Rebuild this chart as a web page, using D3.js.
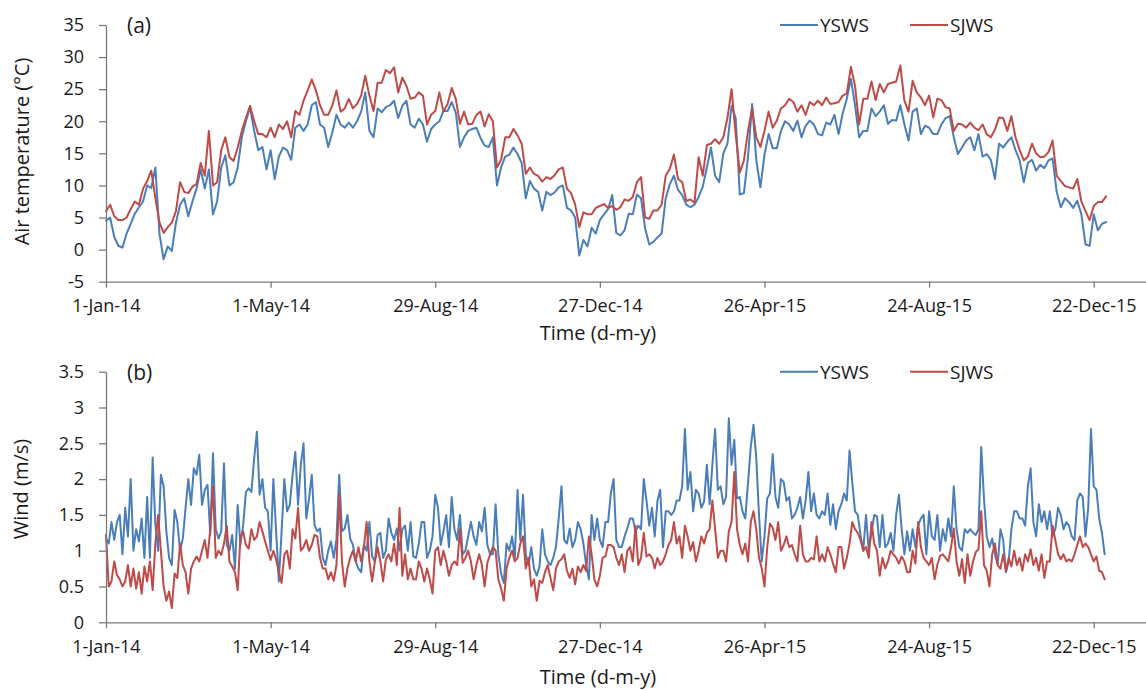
<!DOCTYPE html>
<html>
<head>
<meta charset="utf-8">
<script src="https://cdn.jsdelivr.net/npm/d3@7"></script>
<style>
  html, body { margin: 0; padding: 0; background: #ffffff; }
  svg { display: block; font-family: "Open Sans", "Liberation Sans", sans-serif; }
</style>
</head>
<body>
<svg id="chart" width="1146" height="690"></svg>
<script>
// ---- Data -------------------------------------------------------------
const xTickLabels = ["1-Jan-14", "1-May-14", "29-Aug-14", "27-Dec-14", "26-Apr-15", "24-Aug-15", "22-Dec-15"];
const tempTicks = [-5, 0, 5, 10, 15, 20, 25, 30, 35];
const windTicks = [0, 0.5, 1, 1.5, 2, 2.5, 3, 3.5];
const seriesNames = ["YSWS", "SJWS"];

// daily records thinned to one value every few days, starting 1-Jan-14
const tempStepDays = 3;
const windStepDays = 2;

// Air temperature (°C)
const tempYSWS = [
  4.5, 5, 2.0, 0.6, 0.3, 2.5, 4, 5.6, 6.6, 7.5, 10, 9.6, 12.8, 2.4, -1.5, 0.5, -0.2, 4.2, 7, 8,
  5.2, 7.5, 9.5, 12.5, 9.5, 12.5, 5.5, 7.5, 12.8, 14.7, 10, 10.5, 12.8, 17.5, 20, 22.2, 18.5, 15.5, 16, 12.5,
  15.5, 11, 14.5, 15.9, 15.5, 14, 19, 19.5, 18.5, 19.5, 22.5, 23, 19.5, 19, 16, 18.3, 21, 19.5, 19, 19.8,
  19, 20,
  21.5, 24.5, 18.5, 17.5, 22, 21.4, 22.2, 22.5, 23.2, 20.5, 22.4, 23.2, 19.5, 19, 20.4, 19.5, 16.8, 18.8, 19.5, 20,
  21.6, 21.6, 23, 21.3, 16, 17.5, 18.5, 18.8, 19, 17.4, 16.2, 16, 17.5, 10, 12.8, 14.5, 14.8, 15.9, 14.9, 13.5,
  8, 10.7, 9.5, 9, 6.1, 9, 8.5, 8.9, 9.7, 10, 6.5, 6.1, 5, -0.9, 1.5, 0.5, 3.4, 2.5, 4.6, 5.5, 6.3,
  8.5, 2.6, 2.2, 3, 5.6, 5.5, 8.6, 8, 3.3, 0.8, 1.2, 1.9, 2.5, 8, 10.2, 11.5, 9.3, 8.5, 7, 6.6,
  7, 8.2, 9.8, 12.8, 15.9, 11.5, 10.5, 15, 16.5, 22.4, 20.5, 8.6, 8.8, 14.5, 22.7, 14, 9.7, 14.8, 18, 15.8,
  15.8, 18.5, 20, 19.5, 18.5, 20.1, 17.5, 19.3, 20.1, 19.5, 18, 17.8, 19.8, 19.5, 21, 18, 21.2, 23.5, 26.6, 22.5, 17.5,
  18.5, 18.5, 22, 20.8, 21.5, 22.5, 19.6, 20.2, 20.1, 22.5, 19.5, 17, 21.5, 22, 18, 19.3, 19, 18, 18, 19.5,
  20.5, 20.8, 17.5, 14.9, 15.9, 17, 17.5, 15.5, 18, 14.5, 14.9, 14, 11, 16.5, 15.9, 16.8, 17.5, 15.5, 13.9, 10.5,
  13.5, 14, 12.3, 13.2, 12.7, 13.9, 14.2, 9, 6.6, 8, 7.4, 6.5, 7.6, 5.5, 0.8, 0.6, 5.5, 3, 4, 4.3
];
const tempSJWS = [
  6, 7, 5.2, 4.6, 4.6, 5, 6.3, 7.5, 7, 9.5, 10.7, 12.3, 8, 4.2, 2.6, 3.5, 4.2, 6, 10.5, 9,
  8.8, 9.8, 10.2, 13.5, 11.5, 18.5, 10, 10.5, 15.5, 17.5, 14.4, 13.8, 15.9, 18.5, 20.5, 22.4, 20, 18, 18, 17.5,
  19, 17.5, 19.5, 18.8, 20, 17.5, 21.6, 21, 23.2, 24.8, 26.5, 24.8, 22.5, 21, 21, 22.5, 24.8, 21.5, 22, 23.5,
  22, 22.7,
  24, 27.1, 24, 21.6, 26, 26, 28, 27.5, 28.4, 24.5, 26.8, 25.5, 23.5, 23.7, 24.5, 24, 19.5, 21, 21.6, 24.5,
  21.5, 22.7, 25.2, 23.5, 19.6, 21.5, 19.5, 19.6, 21, 21.5, 19.2, 21.1, 20, 12.8, 14, 17.5, 17.5, 18.8, 17.8, 16.5,
  11.8, 12.8, 11.8, 11.5, 10.6, 11.3, 11, 11.6, 12.5, 12.8, 9.5, 8.8, 7, 3.5, 5.8, 5.5, 5.5, 6.5, 6.8, 7.1, 6.5,
  6.8, 6.2, 6.6, 7.8, 7.6, 8.2, 10.5, 11.3, 5, 4.8, 6.1, 6.1, 7, 11.5, 12.6, 14.8, 11, 10.5, 7.6, 7.8,
  7.3, 14.4, 11.5, 16.3, 16.5, 17.2, 16.5, 17.5, 20.5, 25, 18, 12, 13.9, 18.5, 22, 17.5, 16, 18.5, 21.5, 19,
  20.1, 22, 22.5, 23.5, 23, 21.5, 22.5, 21, 23, 22.5, 23.2, 22.5, 23.7, 22.7, 22.8, 23, 24, 24.3, 28.5, 25.5, 19.5,
  23.5, 23.5, 26.2, 23.3, 25.8, 24.5, 25.8, 26, 26.2, 28.7, 23.2, 21.5, 26.3, 24.5, 23.7, 22.5, 24, 20.6, 23.5, 23.3,
  22.2, 22, 18.5, 19.6, 19.5, 19, 19.8, 19, 18.6, 19.5, 18, 17.5, 18.7, 20.6, 20.5, 18.5, 20.8, 17.5, 15.5, 13.9,
  14.5, 16.5, 15, 14.4, 14.5, 15.2, 17, 11.5, 10.7, 9.9, 9.7, 9.5, 11, 7.5, 6, 4.6, 6.8, 7.4, 7.4, 8.3
];

// Wind (m/s)
const windYSWS = [
  1.17, 1.1, 1.4, 1.15, 1.4, 1.5, 0.95, 1.6, 1.2, 2.0, 1.0, 1.3, 1.13, 1.45, 0.9, 1.75, 0.9, 2.3, 1.36, 1.0,
  2.06, 1.9, 1.27, 0.9, 0.8, 1.57, 1.4, 1.0, 1.17, 1.6, 2.0, 1.64, 2.15, 2.06, 2.34, 1.64, 1.85, 1.92, 1.22, 2.36,
  1.3, 1.17, 1.27, 2.22, 1.08, 1.0, 1.22, 0.75, 1.64, 1.08, 1.36, 1.82, 1.87, 1.82, 2.29, 2.66, 1.78, 2.0, 1.6, 1.55,
  1.0, 2.0, 1.27, 0.57, 1.27, 2.0, 1.55, 1.64, 2.06, 2.38, 1.64, 2.2, 2.5, 1.45, 1.73, 2.06, 1.36, 1.27, 1.31, 0.9,
  0.8, 1.0, 1.13, 0.9, 1.17, 2.06, 1.27, 1.31, 1.5, 1.17, 1.08, 0.85, 0.75,
  0.7, 1.08, 1.0, 1.4, 0.92, 0.85, 1.22, 1.25, 0.9, 1.0, 1.45, 1.25, 1.15, 1.31, 1.0, 1.3, 1.35, 1.0, 1.4, 0.92,
  0.9, 1.1, 1.4, 1.4, 0.9, 1.0, 1.2, 1.78, 1.6, 1.08, 1.27, 1.5, 1.05, 1.75, 1.3, 1.15, 1.5, 0.95, 1.0, 1.2,
  1.4, 1.2, 1.08, 1.4, 1.27, 1.6, 1.08, 0.95, 0.95, 1.65, 0.95, 0.68, 0.55, 1.1, 1.0, 1.2, 0.9, 1.85, 1.15, 1.78,
  0.95, 0.8, 1.05, 0.75, 0.65, 0.78, 1.3, 0.95, 0.85, 0.8, 0.9, 1.05, 1.45, 1.9, 1.15, 1.1, 1.31, 1.05, 1.15, 1.4,
  1.3, 1.1, 0.8, 0.6, 1.5, 1.15, 1.45, 1.15, 1.05, 1.4, 1.4,
  1.8, 2.0, 1.15, 1.05, 1.05, 1.2, 1.31, 1.45, 1.45, 1.27, 1.35, 1.3, 2.0, 1.7, 1.35, 1.6, 1.2, 1.7, 1.85, 1.05,
  1.55, 1.55, 1.5, 1.55, 1.7, 1.7, 1.9, 2.7, 1.85, 2.1, 1.55, 1.85, 1.8, 1.6, 1.69, 2.2, 1.65, 2.2, 2.7, 1.85,
  1.9, 1.65, 1.75, 2.85, 2.2, 2.55, 1.73, 1.75, 1.55, 1.45, 1.95, 2.45, 2.76, 2.3, 1.5, 0.85, 1.2, 1.73, 1.8, 2.35,
  1.75, 1.6, 2.0, 1.96, 1.7, 1.75, 1.45, 1.5, 1.6, 1.75, 1.45, 1.7, 2.1, 1.55, 1.8, 1.5, 1.45, 1.55, 1.5, 1.8,
  1.36, 1.65, 1.3, 1.55, 1.65, 1.8, 1.7, 2.4, 1.95, 1.55, 1.5,
  1.22, 1.0, 1.5, 1.0, 1.25, 1.5, 1.48, 1.05, 1.5, 1.05, 1.1, 1.25, 1.0, 1.5, 1.78, 1.3, 0.95, 1.27, 1.0, 1.3,
  1.05, 1.35, 1.45, 1.5, 0.95, 1.55, 1.2, 1.15, 1.5, 1.0, 1.3, 1.13, 1.45, 1.2, 1.9, 1.3, 1.05, 1.0, 1.3, 1.25,
  1.3, 1.25, 1.22, 1.3, 2.45, 1.73, 1.2, 1.05, 1.17, 0.95, 0.8, 1.3, 1.15, 0.7, 0.85, 1.3, 1.55, 1.55, 1.45, 1.45,
  1.35, 1.9, 2.15, 1.4, 1.2, 1.65, 1.4, 1.55, 1.3, 1.55, 1.2, 1.3, 1.6, 1.5, 1.3, 1.4, 1.35, 1.2, 1.15, 1.7,
  1.8, 1.75, 1.2, 1.6, 2.7, 1.9, 1.85, 1.45, 1.25, 0.95
];
const windSJWS = [
  1.22, 0.5, 0.57, 0.85, 0.66, 0.6, 0.5, 0.57, 0.8, 0.5, 0.75, 0.47, 0.7, 0.4, 0.78, 0.57, 0.85, 0.45, 1.1, 1.5,
  1.0, 0.5, 0.3, 0.43, 0.2, 0.68, 0.62, 1.1, 0.8, 0.7, 0.4, 0.75, 0.85, 0.92, 0.85, 1.0, 1.15, 0.9, 1.3, 1.9,
  0.9, 1.0, 0.94, 1.1, 1.35, 0.85, 0.78, 0.7, 0.45, 1.2, 1.27, 1.08, 1.03, 1.3, 1.15, 1.2, 1.4, 1.27, 1.13, 1.0,
  0.87, 1.0, 0.88, 0.7, 0.55, 0.95, 1.0, 0.75, 1.3, 1.17, 1.6, 1.0, 1.05, 1.15, 1.0, 1.08, 1.22, 1.2, 0.9, 0.75,
  0.75, 0.6, 0.7, 0.58, 0.8, 1.8, 0.85, 0.5, 0.75, 0.9, 1.0, 0.85, 1.05,
  0.85, 1.05, 1.4, 0.85, 0.57, 0.85, 1.05, 0.85, 0.57, 0.88, 0.95, 0.85, 1.1, 0.8, 1.6, 0.65, 0.95, 0.6, 0.75, 0.6,
  0.6, 0.85, 0.75, 0.57, 0.75, 0.6, 0.4, 1.0, 1.05, 0.8, 1.0, 0.85, 0.65, 0.8, 0.85, 0.8, 1.3, 0.83, 0.9, 1.0,
  0.85, 0.6, 0.8, 0.95, 0.8, 0.5, 0.83, 0.95, 1.05, 1.0, 0.6, 0.47, 0.3, 0.75, 0.9, 1.0, 0.85, 0.9, 1.1, 1.2,
  0.75, 0.9, 0.5, 0.6, 0.3, 0.58, 0.55, 0.7, 0.8, 0.62, 0.45, 0.75, 0.85, 0.88, 0.95, 0.72, 0.62, 0.75, 0.53, 0.78,
  0.7, 0.8, 0.72, 1.2, 0.95, 0.6, 0.5, 0.65, 0.9, 0.92, 1.08,
  1.08, 1.05, 0.9, 0.8, 0.95, 0.7, 1.0, 1.05, 0.85, 1.35, 0.8, 0.9, 1.25, 0.92, 0.95, 0.9, 0.75, 0.9, 0.8, 0.85,
  0.95, 1.08, 1.15, 1.4, 1.1, 1.2, 0.9, 1.35, 1.2, 1.0, 1.12, 0.85, 1.0, 1.2, 1.1, 1.25, 1.3, 1.7, 1.3, 0.9,
  1.0, 1.0, 0.85, 1.27, 1.4, 2.1, 1.3, 1.08, 0.95, 1.1, 0.85, 1.4, 1.55, 1.3, 0.9, 0.75, 0.5, 1.05, 1.38, 1.32,
  1.15, 1.4, 1.0, 1.08, 1.2, 1.05, 1.08, 0.95, 0.85, 1.35, 0.95, 0.85, 0.85, 0.9, 0.88, 1.2, 0.85, 0.95, 0.85, 1.05,
  0.95, 0.82, 0.7, 1.05, 1.05, 0.75, 0.9, 1.1, 1.4, 1.3, 1.25,
  1.15, 1.0, 1.05, 0.9, 1.4, 1.1, 1.0, 0.65, 0.9, 0.75, 0.85, 1.0, 0.95, 0.9, 0.82, 0.92, 0.85, 0.7, 0.7, 1.0,
  0.82, 1.4, 1.05, 0.9, 0.85, 0.8, 0.9, 0.6, 0.8, 0.93, 0.95, 0.9, 0.85, 1.05, 1.31, 0.85, 0.65, 0.88, 0.55, 0.95,
  0.65, 0.85, 0.98, 1.02, 1.55, 0.8, 0.72, 0.5, 0.95, 1.1, 0.8, 0.75, 0.95, 0.72, 0.9, 0.78, 1.0, 0.8, 0.9, 0.72,
  0.95, 0.85, 1.02, 0.8, 0.9, 0.72, 0.95, 0.62, 0.85, 0.85, 1.35, 1.15, 0.95, 0.88, 0.95, 0.85, 0.88, 0.85, 0.95, 1.08,
  1.2, 1.05, 1.1, 1.05, 0.95, 0.85, 0.92, 0.72, 0.7, 0.6
];

// ---- Drawing ----------------------------------------------------------
const colors = { YSWS: "#4a7ebb", SJWS: "#be4b48" };
const textColor = "#1a1a1a";
const axisColor = "#7a7a7a";
const tickFontSize = 18;

const parseTick = d3.utcParse("%d-%b-%y");
const tickDates = xTickLabels.map(parseTick);
const startDate = tickDates[0];

const svg = d3.select("#chart");
svg.append("rect").attr("width", 1146).attr("height", 690).attr("fill", "#ffffff");

const x = d3.scaleUtc()
  .domain([startDate, d3.utcDay.offset(startDate, 760)])
  .range([106, 1148.6]);

function toPoints(values, step) {
  return values.map((v, i) => ({ date: d3.utcDay.offset(startDate, i * step), value: v }));
}

function drawPanel(cfg) {
  const g = svg.append("g");
  const y = d3.scaleLinear().domain(cfg.domain).range(cfg.range);

  // series lines
  const line = d3.line().x(d => x(d.date)).y(d => y(d.value));
  seriesNames.forEach(name => {
    g.append("path")
      .datum(toPoints(cfg.series[name], cfg.step))
      .attr("fill", "none")
      .attr("stroke", colors[name])
      .attr("stroke-width", 2)
      .attr("stroke-linejoin", "round")
      .attr("stroke-linecap", "round")
      .attr("d", line);
  });

  // y axis
  const yAxis = g.append("g")
    .attr("transform", `translate(${x.range()[0]},0)`)
    .call(d3.axisLeft(y).tickValues(cfg.ticks).tickSize(7).tickSizeOuter(0).tickPadding(15)
      .tickFormat(d => String(d)));
  // x axis
  const xAxis = g.append("g")
    .attr("transform", `translate(0,${cfg.range[0]})`)
    .call(d3.axisBottom(x).tickValues(tickDates).tickSize(6).tickSizeOuter(0).tickPadding(cfg.xTickPad)
      .tickFormat((d, i) => xTickLabels[i]));

  [yAxis, xAxis].forEach(ax => {
    ax.select(".domain").attr("stroke", axisColor).attr("stroke-width", 1.3);
    ax.selectAll(".tick line").attr("stroke", axisColor).attr("stroke-width", 1.3);
    ax.selectAll(".tick text").attr("fill", textColor).style("font-size", tickFontSize + "px")
      .style("font-family", "'Open Sans', 'Liberation Sans', sans-serif");
  });

  // axis titles
  g.append("text")
    .attr("transform", `translate(${cfg.yTitleX},${cfg.yTitleY}) rotate(-90)`)
    .attr("text-anchor", "middle")
    .attr("fill", textColor)
    .style("font-size", "20px")
    .text(cfg.yTitle);
  g.append("text")
    .attr("x", 598).attr("y", cfg.xTitleY)
    .attr("text-anchor", "middle")
    .attr("fill", textColor)
    .style("font-size", "20px")
    .text("Time (d-m-y)");

  // panel letter
  g.append("text")
    .attr("x", 127).attr("y", cfg.range[1] + 8)
    .attr("fill", textColor)
    .style("font-size", "21px")
    .text(cfg.letter);

  // legend
  const legendX = [780, 910];
  seriesNames.forEach((name, i) => {
    const ly = cfg.range[1];
    g.append("line")
      .attr("x1", legendX[i]).attr("x2", legendX[i] + 38)
      .attr("y1", ly).attr("y2", ly)
      .attr("stroke", colors[name]).attr("stroke-width", 2);
    g.append("text")
      .attr("x", legendX[i] + 40).attr("y", ly + 7)
      .attr("fill", textColor)
      .style("font-size", "19px")
      .text(name);
  });
}

drawPanel({
  domain: [tempTicks[0], tempTicks[tempTicks.length - 1]],
  range: [281.7, 25],
  ticks: tempTicks,
  step: tempStepDays,
  series: { YSWS: tempYSWS, SJWS: tempSJWS },
  yTitle: "Air temperature (\u00B0C)",
  yTitleX: 29, yTitleY: 151.5,
  xTitleY: 340,
  xTickPad: 12,
  letter: "(a)"
});

drawPanel({
  domain: [windTicks[0], windTicks[windTicks.length - 1]],
  range: [622.3, 371.7],
  ticks: windTicks,
  step: windStepDays,
  series: { YSWS: windYSWS, SJWS: windSJWS },
  yTitle: "Wind (m/s)",
  yTitleX: 28, yTitleY: 489,
  xTitleY: 684,
  xTickPad: 12,
  letter: "(b)"
});
</script>
</body>
</html>
